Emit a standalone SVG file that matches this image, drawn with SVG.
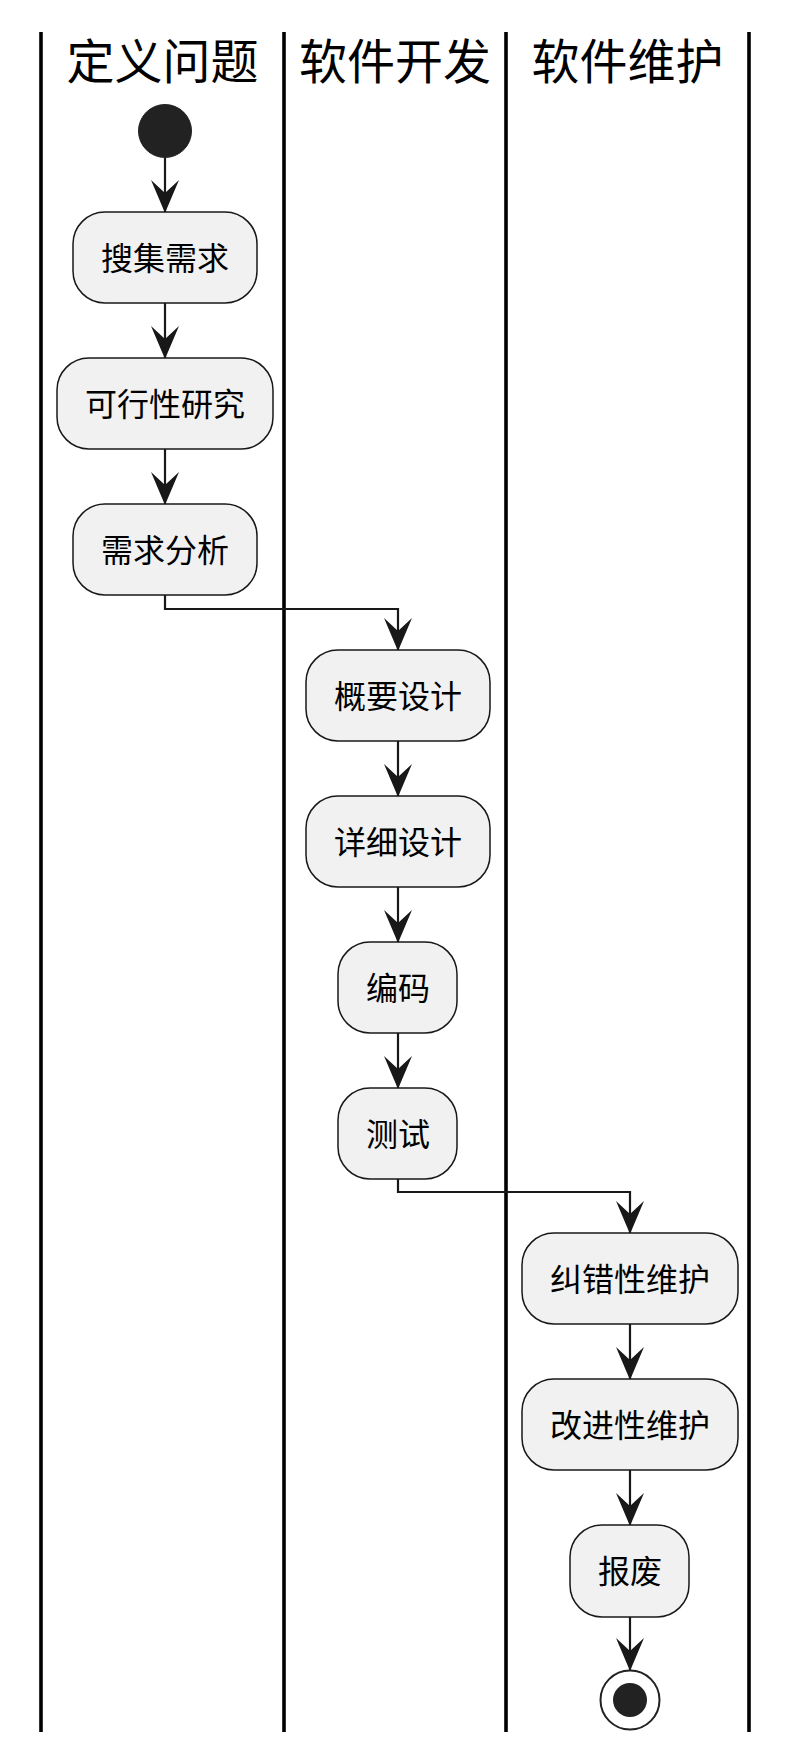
<svg xmlns="http://www.w3.org/2000/svg" width="800" height="1760" viewBox="0 0 800 1760">
<style>
.lane{stroke:#000;stroke-width:3.6;fill:none}
.title{font-family:"Noto Sans CJK SC","Noto Sans",sans-serif;font-size:48px;fill:#000;text-anchor:middle}
.box{fill:#F1F1F1;stroke:#181818;stroke-width:1.5}
.lbl{font-family:"Noto Sans CJK SC","Noto Sans",sans-serif;font-size:32px;fill:#000;text-anchor:middle}
.edge{stroke:#181818;stroke-width:2.2;fill:none}
</style>
<defs>
<marker id="ah" markerUnits="userSpaceOnUse" viewBox="0 -15 34 30" markerWidth="34" markerHeight="30" refX="33" refY="0" orient="auto">
<path d="M0,-14 L33,0 L0,14 L13,0 Z" fill="#181818"/>
</marker>
</defs>
<rect width="800" height="1760" fill="#fff"/>
<g id="lanes">
<line class="lane" x1="41" y1="32" x2="41" y2="1732"/>
<line class="lane" x1="284" y1="32" x2="284" y2="1732"/>
<line class="lane" x1="506" y1="32" x2="506" y2="1732"/>
<line class="lane" x1="749" y1="32" x2="749" y2="1732"/>
<text class="title" x="162.5" y="79">定义问题</text>
<text class="title" x="395" y="79">软件开发</text>
<text class="title" x="627.5" y="79">软件维护</text>
</g>
<g id="connectors">
<path class="edge" d="M165,158 V213" marker-end="url(#ah)"/>
<path class="edge" d="M165,303 V359" marker-end="url(#ah)"/>
<path class="edge" d="M165,449 V505" marker-end="url(#ah)"/>
<path class="edge" d="M165,595 V609 H398 V651" marker-end="url(#ah)"/>
<path class="edge" d="M398,741 V797" marker-end="url(#ah)"/>
<path class="edge" d="M398,887 V943" marker-end="url(#ah)"/>
<path class="edge" d="M398,1033 V1089" marker-end="url(#ah)"/>
<path class="edge" d="M398,1179 V1192 H630 V1234" marker-end="url(#ah)"/>
<path class="edge" d="M630,1324 V1380" marker-end="url(#ah)"/>
<path class="edge" d="M630,1470 V1526" marker-end="url(#ah)"/>
<path class="edge" d="M630,1617 V1671" marker-end="url(#ah)"/>
</g>
<g id="start"><circle cx="165" cy="131" r="26.5" fill="#222" stroke="#222" stroke-width="1"/></g>
<g id="n1"><rect class="box" x="73" y="212" width="184" height="91" rx="32"/><text class="lbl" x="165" y="270">搜集需求</text></g>
<g id="n2"><rect class="box" x="57" y="358" width="216" height="91" rx="32"/><text class="lbl" x="165" y="416">可行性研究</text></g>
<g id="n3"><rect class="box" x="73" y="504" width="184" height="91" rx="32"/><text class="lbl" x="165" y="562">需求分析</text></g>
<g id="n4"><rect class="box" x="306" y="650" width="184" height="91" rx="32"/><text class="lbl" x="398" y="708">概要设计</text></g>
<g id="n5"><rect class="box" x="306" y="796" width="184" height="91" rx="32"/><text class="lbl" x="398" y="854">详细设计</text></g>
<g id="n6"><rect class="box" x="338" y="942" width="119" height="91" rx="32"/><text class="lbl" x="398" y="1000">编码</text></g>
<g id="n7"><rect class="box" x="338" y="1088" width="119" height="91" rx="32"/><text class="lbl" x="398" y="1146">测试</text></g>
<g id="n8"><rect class="box" x="522" y="1233" width="216" height="91" rx="32"/><text class="lbl" x="630" y="1291">纠错性维护</text></g>
<g id="n9"><rect class="box" x="522" y="1379" width="216" height="91" rx="32"/><text class="lbl" x="630" y="1437">改进性维护</text></g>
<g id="n10"><rect class="box" x="570" y="1525" width="119" height="92" rx="32"/><text class="lbl" x="630" y="1583">报废</text></g>
<g id="end"><circle cx="630" cy="1700" r="29.5" fill="none" stroke="#222" stroke-width="2"/><circle cx="630" cy="1700" r="17" fill="#222"/></g>
</svg>
